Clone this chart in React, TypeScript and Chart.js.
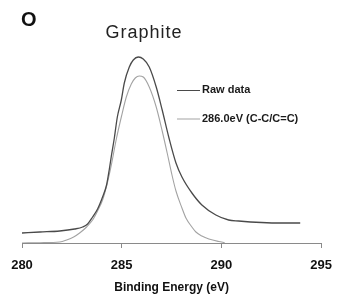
import React, { useEffect, useRef } from "react";
import { Chart, registerables } from "chart.js";

Chart.register(...registerables);

const rawEnergy = [280.0, 280.9, 281.89, 282.64, 283.04, 283.29, 283.54, 283.79, 284.04, 284.24, 284.38, 284.48, 284.63, 284.78, 284.98, 285.13, 285.38, 285.58, 285.83, 286.08, 286.38, 286.73, 287.03, 287.37, 287.72, 288.02, 288.52, 289.02, 289.72, 290.36, 290.86, 292.01, 293.0, 293.95];
const rawIntensity = [10, 11, 12, 14, 16, 19, 26, 34, 46, 58, 74, 87, 105, 126, 143, 160, 176, 183, 186, 184, 176, 156, 133, 105, 80, 66, 50, 38, 28, 23, 22, 20.5, 20, 20];

const fitEnergy = [280.0, 280.9, 281.89, 282.24, 282.59, 282.89, 283.24, 283.54, 283.79, 284.04, 284.28, 284.48, 284.73, 284.98, 285.23, 285.48, 285.68, 285.88, 286.08, 286.38, 286.73, 287.03, 287.28, 287.52, 287.72, 288.02, 288.22, 288.52, 288.72, 289.02, 289.37, 289.87, 290.16];
const fitIntensity = [0, 0.3, 1, 3, 6, 10, 16, 23, 32, 43, 60, 78, 104, 126, 146, 159, 165, 167, 166, 156, 136, 112, 90, 68, 52, 35, 25, 16, 11, 7, 4, 1.5, 0.5];

const seriesLabels = ["Raw data", "286.0eV (C-C/C=C)"];
const xTicks = [280, 285, 290, 295];
const xTitle = "Binding Energy (eV)";
const chartTitle = "Graphite";
const panelLabel = "O";

const legendPlugin = {
  id: "insideLegend",
  afterDraw(chart: any) {
    const ctx = chart.ctx;
    const rows = [90, 118.5];
    ctx.save();
    chart.data.datasets.forEach((ds: any, i: number) => {
      const y = rows[i];
      ctx.strokeStyle = ds.borderColor;
      ctx.lineWidth = 1;
      ctx.beginPath();
      ctx.moveTo(177, y + 0.5);
      ctx.lineTo(200, y + 0.5);
      ctx.stroke();
      ctx.fillStyle = "#1a1a1a";
      ctx.font = "bold 11px 'Liberation Sans', Arial, sans-serif";
      ctx.textBaseline = "middle";
      ctx.textAlign = "left";
      ctx.fillText(ds.label, 202, y);
    });
    ctx.restore();
  },
};

export default function App() {
  const ref = useRef<HTMLCanvasElement | null>(null);
  useEffect(() => {
    if (!ref.current) return;
    const chart = new Chart(ref.current, {
      type: "line",
      data: {
        datasets: [
          {
            label: seriesLabels[0],
            data: rawEnergy.map((x, i) => ({ x, y: rawIntensity[i] })),
            borderColor: "#4a4a4a",
            borderWidth: 1.3,
            pointRadius: 0,
            cubicInterpolationMode: "monotone",
            fill: false,
          },
          {
            label: seriesLabels[1],
            data: fitEnergy.map((x, i) => ({ x, y: fitIntensity[i] })),
            borderColor: "#a3a3a3",
            borderWidth: 1.1,
            pointRadius: 0,
            cubicInterpolationMode: "monotone",
            fill: false,
          },
        ],
      },
      options: {
        animation: false,
        responsive: false,
        devicePixelRatio: 1,
        layout: { padding: { left: 22, right: 19, top: 43, bottom: 0 } },
        plugins: { legend: { display: false }, tooltip: { enabled: false }, title: { display: false } },
        scales: {
          x: {
            type: "linear",
            min: 280,
            max: 295,
            afterFit: (scale: any) => {
              scale.height = 54;
            },
            afterBuildTicks: (scale: any) => {
              scale.ticks = xTicks.map((v) => ({ value: v }));
            },
            border: { display: true, color: "#8a8a8a", width: 1 },
            grid: { display: true, drawOnChartArea: false, drawTicks: true, tickLength: 5, color: "#8a8a8a" },
            ticks: {
              padding: 10,
              color: "#111",
              font: { family: "'Liberation Sans', Arial, sans-serif", size: 13, weight: "bold" },
            },
            title: {
              display: true,
              text: xTitle,
              color: "#111",
              padding: { top: 0, bottom: 2 },
              font: { family: "'Liberation Sans', Arial, sans-serif", size: 12, weight: "bold" },
            },
          },
          y: { display: false, min: 0, max: 200 },
        },
      },
      plugins: [legendPlugin],
    } as any);
    return () => chart.destroy();
  }, []);

  return (
    <div style={{ position: "absolute", left: 0, top: 0, width: 342, height: 297, background: "#fff" }}>
      <canvas ref={ref} width={342} height={297} style={{ display: "block", width: 342, height: 297 }} />
      <div
        style={{
          position: "absolute",
          left: 21,
          top: 9,
          fontFamily: "'Liberation Sans', Arial, sans-serif",
          fontWeight: "bold",
          fontSize: 20,
          lineHeight: "20px",
          color: "#111",
        }}
      >
        {panelLabel}
      </div>
      <div
        style={{
          position: "absolute",
          left: 84,
          width: 120,
          textAlign: "center",
          top: 22,
          fontFamily: "'Liberation Sans', Arial, sans-serif",
          fontSize: 18,
          lineHeight: "20px",
          letterSpacing: 1,
          color: "#222",
        }}
      >
        {chartTitle}
      </div>
    </div>
  );
}
